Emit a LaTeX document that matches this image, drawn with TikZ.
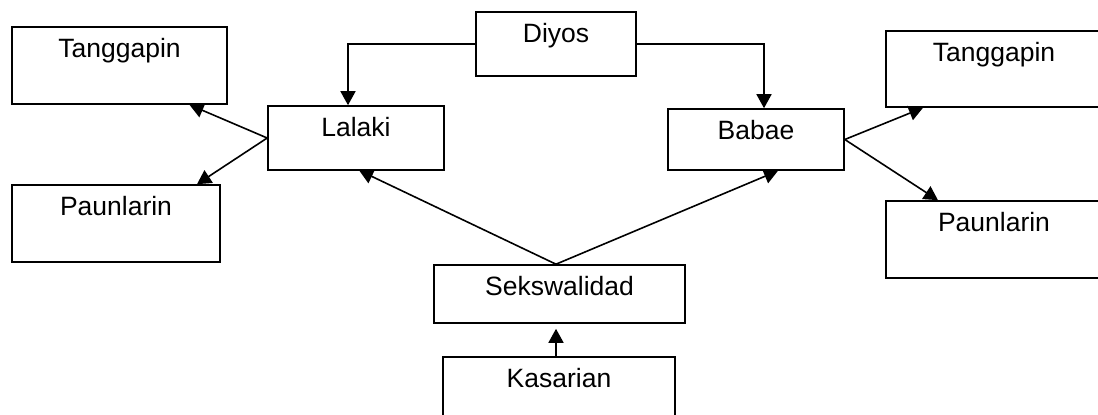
\documentclass[tikz,border=0pt]{standalone}
\usepackage{fontspec}
\setmainfont{Liberation Sans}
\usetikzlibrary{arrows.meta}
\begin{document}
\begin{tikzpicture}[x=1pt,y=-1pt,
  bx/.style={draw,line width=1.6pt,inner sep=0pt,text height=30pt,
    font=\fontsize{26.5}{30}\selectfont},
  arr/.style={line width=1.6pt,-{Triangle[length=14pt,width=15pt]}}]
\useasboundingbox (0,0) rectangle (1098,415);
\node[bx,minimum width=215pt,text depth=47pt] (tanL) at (119.5,65.5) {Tanggapin};
\node[bx,minimum width=208pt,text depth=47pt] (pauL) at (116,223.5) {Paunlarin};
\node[bx,minimum width=176pt,text depth=34pt] (lalaki) at (356,138) {Lalaki};
\node[bx,minimum width=160pt,text depth=34pt] (diyos) at (556,44) {Diyos};
\node[bx,minimum width=176pt,text depth=31pt] (babae) at (756,139.5) {Babae};
\node[bx,minimum width=216pt,text depth=46pt] (tanR) at (994,69) {Tanggapin};
\node[bx,minimum width=216pt,text depth=47pt] (pauR) at (994,239.5) {Paunlarin};
\node[bx,minimum width=251pt,text depth=28pt] (sek) at (559.5,294) {Sekswalidad};
\node[bx,minimum width=232pt,text depth=47pt] (kas) at (559,395.5) {Kasarian};
\draw[arr] (diyos.west) -| ([xshift=-8pt]lalaki.north);
\draw[arr] (diyos.east) -| ([xshift=8pt]babae.north);
\draw[arr] (lalaki.west) -- ([xshift=70pt]tanL.south);
\draw[arr] (lalaki.west) -- ([xshift=81pt]pauL.north);
\draw[arr] (babae.east) -- ([xshift=-71pt]tanR.south);
\draw[arr] (babae.east) -- ([xshift=-56pt]pauR.north);
\coordinate (sj) at ([xshift=-3.5pt]sek.north);
\draw[arr,shorten >=-1pt] (sj) -- ([xshift=4pt]lalaki.south);
\draw[arr] (sj) -- ([xshift=22pt]babae.south);
\coordinate (kj) at ([xshift=-3pt]kas.north);
\draw[arr,shorten >=5pt] (kj) -- (kj |- sek.south);
\end{tikzpicture}
\end{document}
